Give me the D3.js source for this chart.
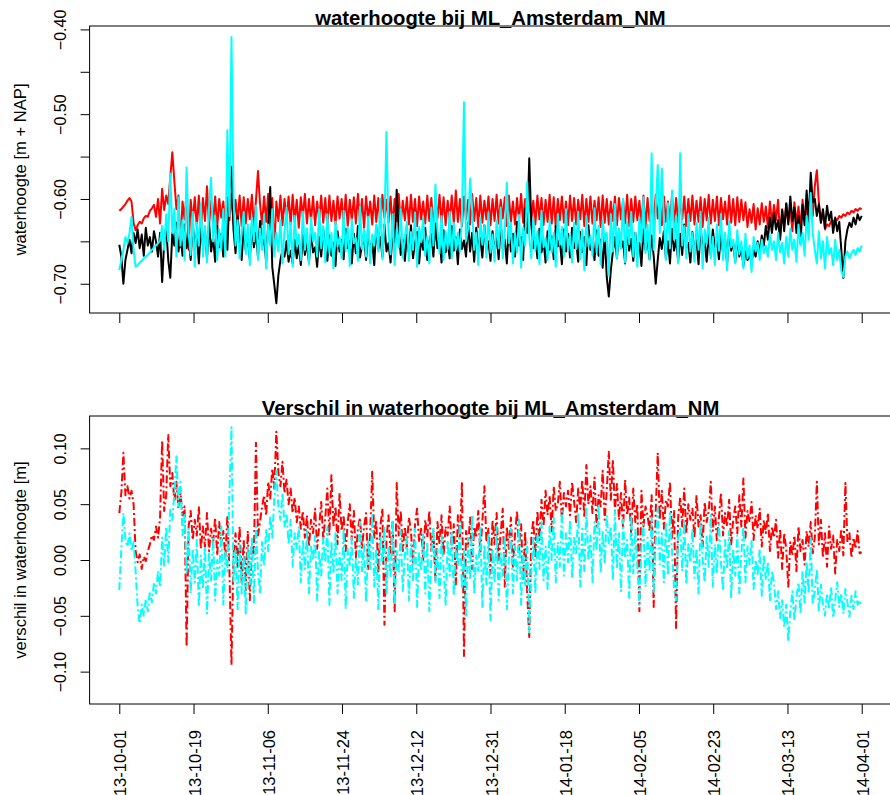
<!DOCTYPE html>
<html>
<head>
<meta charset="utf-8">
<script src="https://cdn.jsdelivr.net/npm/d3@7"></script>
<style>
  body { margin: 0; background: #fff; }
  text { font-family: "Liberation Sans", Arial, sans-serif; }
</style>
</head>
<body>
<div id="d3-container"></div>
<script>
// one value every 12 hours from 2013-10-01 00:00 UTC, in mm
const startTime = Date.UTC(2013, 9, 1);
const endTime = Date.UTC(2014, 3, 1);
const stepMs = 12 * 3600 * 1000;

// waterhoogte, black
const levelObs = [
  -654,-668,-700,-672,-660,-648,-664,-640,-652,
  -636,-658,-642,-667,-634,-655,-645,-662,-638,
  -650,-668,-640,-698,-652,-633,-672,-693,-640,
  -655,-628,-662,-642,
  -667,-630,-658,-645,-672,-627,-660,-640,-676,-634,
  -655,-638,-670,-628,-662,-645,-674,-632,-657,-641,-668,-625,-660,-590,-562,-636,-664,-620,-648,-672,
  -632,-660,-644,-671,-629,-657,-640,-668,-626,-655,-648,-674,-630,-586,-680,-701,-723,-690,-672,-660,
  -668,-650,-674,-661,-676,-648,-670,-655,-678,-642,-666,-652,-675,-640,-663,-657,-680,-645,-668,-636,
  -660,-673,-643,-667,-652,-679,-638,-662,-648,-671,-635,-658,-650,-676,-641,-664,-632,-669,-655,-646,
  -672,-637,-661,-650,-678,-633,-659,-645,-668,-630,-662,-652,-675,-640,-657,-589,-636,-666,-648,-673,
  -642,-664,-631,-670,-652,-639,-676,-646,-660,-634,-672,-650,-641,-668,-629,-658,-647,-675,-637,-663,
  -651,-670,-632,-661,-645,-677,-636,-659,-649,-668,-628,-662,-640,-674,-634,-657,-646,-669,-631,-660,
  -650,-673,-638,-664,-643,-671,-629,-658,-648,-676,-633,-662,-641,-668,-627,-655,-645,-672,-611,-640,
  -552,-630,-658,-646,-670,-635,-663,-649,-675,-638,-660,-644,-671,-632,-656,-648,-677,-636,-662,-641,
  -669,-634,-658,-650,-674,-639,-663,-645,-678,-631,-660,-652,-672,-637,-667,-648,-681,-642,-692,-715,
  -684,-662,-645,-670,-638,-658,-650,-676,-634,-661,-647,-673,-640,-665,-652,-679,-636,-660,-648,-671,
  -643,-667,-700,-672,-646,-659,-638,-670,-650,-676,-635,-661,-648,-673,-641,-666,-630,-658,-652,-675,
  -639,-662,-648,-677,-633,-660,-651,-674,-642,-667,-636,-658,-649,-671,-640,-664,-646,-676,-638,-661,
  -652,-674,-645,-668,-657,-679,-662,-672,-666,-675,-660,-668,-650,-662,-643,-655,-632,-648,-622,-640,
  -617,-636,-625,-648,-613,-638,-605,-630,-597,-626,-610,-640,-620,-652,-607,-631,-590,-626,-569,-604,
  -600,-620,-606,-628,-612,-634,-608,-625,-615,-640,-622,-638,-627,-660,-693,-650,-636,-628,-633,-622,-630,-618,-625,-620
];

// waterhoogte, red
const levelRed = [
  -614,-612,-609,-606,-602,-599,-603,-628,-637,
  -631,-627,-629,-623,-620,-621,-614,-611,-607,
  -621,-600,-629,-588,-613,-596,-606,-574,-545,
  -579,-612,-596,-657,
  -603,-624,-592,-660,-601,-627,-598,-633,-596,-640,
  -599,-626,-585,-631,-602,-628,-597,-634,-600,-622,-603,-636,-598,-625,-594,-630,-601,-627,-596,-632,
  -598,-629,-600,-624,-595,-633,-602,-567,-606,-630,-597,-627,-594,-638,-599,-660,-603,-626,-596,-631,
  -600,-625,-597,-630,-595,-627,-601,-634,-598,-622,-594,-629,-600,-626,-597,-631,-603,-624,-596,-628,
  -599,-633,-596,-626,-602,-630,-597,-623,-600,-628,-595,-632,-601,-625,-598,-629,-594,-627,-600,-634,
  -597,-624,-603,-630,-596,-627,-599,-631,-595,-622,-601,-628,-597,-633,-600,-626,-594,-629,-602,-625,
  -598,-630,-595,-627,-600,-632,-597,-624,-603,-629,-596,-626,-599,-634,-601,-623,-595,-628,-598,-631,
  -602,-625,-596,-629,-590,-627,-600,-632,-597,-624,-601,-630,-594,-626,-599,-633,-596,-628,-602,-624,
  -597,-631,-600,-626,-595,-629,-601,-623,-598,-632,-596,-627,-603,-630,-599,-625,-594,-628,-600,-633,
  -597,-626,-602,-630,-596,-624,-599,-631,-601,-627,-595,-629,-598,-634,-600,-625,-597,-628,-603,-631,
  -596,-626,-599,-630,-601,-624,-595,-632,-600,-627,-597,-629,-602,-625,-598,-633,-596,-628,-600,-630,
  -603,-626,-597,-631,-599,-624,-601,-629,-595,-632,-600,-627,-597,-625,-602,-630,-596,-634,-599,-626,
  -601,-629,-595,-623,-600,-631,-597,-627,-603,-625,-596,-630,-599,-628,-601,-624,-597,-632,-600,-626,
  -596,-630,-602,-627,-598,-633,-600,-625,-595,-629,-601,-626,-597,-631,-599,-624,-603,-630,-596,-628,
  -600,-631,-598,-627,-601,-625,-604,-633,-612,-628,-606,-636,-611,-630,-605,-627,-609,-634,-603,-629,
  -607,-625,-601,-645,-612,-631,-606,-627,-610,-638,-604,-629,-609,-634,-601,-626,-605,-631,-598,-620,
  -585,-566,-604,-628,-615,-636,-630,-632,-626,-628,-623,-625,-620,-622,-618,-620,-616,-618,-614,-616,-612,-614,-611,-612
];

// waterhoogte, cyan
const levelCyan = [
  -684,-672,-660,-645,-652,-640,-621,-660,-680,
  -678,-675,-673,-670,-668,-666,-663,-660,-657,
  -655,-652,-649,-632,-660,-618,-650,-570,-640,
  -612,-668,-598,-655,
  -625,-672,-563,-640,-666,-615,-680,-628,-655,-605,
  -668,-632,-675,-610,-575,-650,-620,-672,-636,-660,-612,-668,-519,-620,-409,-598,-655,-625,-670,-640,
  -615,-665,-630,-678,-622,-650,-608,-672,-635,-660,-618,-682,-630,-655,-612,-668,-640,-662,-625,-676,
  -638,-610,-665,-628,-680,-620,-655,-642,-672,-615,-660,-635,-677,-622,-650,-640,-668,-612,-658,-632,
  -675,-618,-664,-640,-682,-627,-656,-645,-670,-614,-661,-633,-679,-624,-652,-646,-673,-609,-659,-636,
  -668,-621,-676,-642,-655,-630,-662,-600,-671,-628,-521,-640,-665,-618,-678,-636,-657,-612,-669,-645,
  -627,-673,-639,-660,-616,-680,-633,-651,-622,-667,-644,-676,-610,-655,-583,-636,-664,-620,-672,-638,
  -659,-615,-670,-628,-660,-640,-662,-625,-486,-650,-635,-576,-612,-660,-640,-678,-622,-654,-631,-669,
  -616,-663,-642,-674,-625,-658,-610,-670,-637,-581,-652,-628,-676,-640,-663,-619,-681,-634,-655,-580,
  -645,-670,-622,-660,-638,-677,-614,-657,-646,-672,-625,-663,-640,-680,-618,-654,-633,-668,-612,-661,
  -642,-675,-628,-659,-615,-671,-636,-684,-620,-656,-644,-667,-611,-663,-632,-677,-625,-650,-640,-690,
  -618,-662,-606,-670,-635,-658,-600,-675,-627,-653,-615,-668,-640,-680,-622,-651,-598,-664,-630,-672,
  -546,-660,-610,-560,-640,-564,-625,-672,-605,-658,-590,-648,-620,-676,-546,-655,-632,-670,-618,-662,
  -640,-674,-628,-660,-615,-682,-636,-653,-622,-670,-645,-678,-630,-661,-618,-672,-640,-684,-626,-657,
  -648,-676,-637,-665,-650,-682,-641,-670,-655,-686,-645,-662,-652,-672,-648,-664,-655,-668,-642,-660,
  -650,-672,-640,-663,-652,-676,-645,-668,-635,-660,-648,-674,-630,-655,-640,-667,-620,-648,-593,-640,
  -660,-676,-638,-670,-650,-682,-645,-665,-658,-678,-648,-672,-660,-685,-692,-668,-662,-670,-664,-660,-666,-658,-662,-655
];

// verschil, red
const diffRed = [
  42,60,96,58,66,55,62,50,8,
  -2,5,-8,3,-1,8,14,22,18,
  30,20,38,107,44,58,112,66,78,
  52,70,46,60,
  40,48,-78,30,44,18,36,22,48,10,
  30,12,42,8,28,16,38,4,34,14,26,2,40,-10,-94,5,24,-6,30,-20,
  18,-27,26,-36,15,6,105,22,34,48,58,40,70,55,82,64,115,78,66,88,
  60,72,50,64,42,56,34,48,28,44,20,40,12,36,24,46,10,30,52,18,
  38,64,22,76,30,48,14,60,26,40,8,34,50,18,44,2,28,38,10,30,
  42,-8,24,79,20,36,-12,30,46,-58,18,40,6,34,-46,69,22,44,8,30,
  12,38,26,-4,32,46,16,28,0,36,20,44,8,26,-18,34,14,40,4,30,
  22,48,10,32,-22,40,18,70,-86,26,12,38,-8,30,20,44,6,34,66,16,
  28,-12,36,14,42,0,24,46,-24,30,10,38,-6,22,44,8,32,-18,26,-30,
  -69,20,36,2,44,18,54,30,62,40,58,26,66,44,50,70,36,60,48,62,
  40,70,52,34,64,46,72,38,85,50,66,42,74,30,58,48,80,36,62,97,
  54,90,44,68,36,60,28,72,40,56,22,64,34,50,-46,62,30,48,40,26,
  58,-42,44,96,36,62,28,54,48,70,20,44,-61,38,56,30,64,24,50,36,
  46,20,58,30,40,12,52,34,44,70,26,48,16,38,60,22,42,30,54,14,
  36,48,24,58,30,73,20,44,34,52,18,40,28,46,12,36,24,42,8,30,
  20,36,2,28,-8,24,10,-24,16,4,22,-10,30,8,18,-4,26,12,34,6,
  20,70,14,36,2,24,-6,30,10,22,-12,18,8,28,4,69,16,24,2,20,10,26,6,7
];

// verschil, cyan
const diffCyan = [
  -27,10,42,18,12,24,8,16,-10,
  -42,-57,-40,-50,-35,-46,-28,-38,-20,
  -30,-10,-24,20,-5,30,-2,45,36,
  60,93,48,70,
  22,40,-12,28,-30,10,-20,18,-42,4,
  -26,12,-48,6,-18,20,-36,0,-14,30,-40,8,-10,60,119,-20,10,-44,14,-30,
  4,-48,12,-22,20,-38,30,-10,-30,16,-5,28,8,40,20,55,80,48,36,60,
  30,42,14,36,-6,24,10,30,-20,18,-8,26,-30,12,0,22,-36,8,-14,20,
  -2,30,-40,16,-12,24,-30,6,-18,28,-44,10,-6,20,-34,2,-22,34,-10,14,
  -38,18,-8,40,-24,10,-44,22,-2,30,-30,12,-16,36,-40,8,-12,26,-28,4,
  20,-36,14,-18,28,-42,6,-10,24,-30,16,-46,2,30,-20,10,-34,22,-8,-40,
  18,-14,26,-32,12,-6,34,-26,8,-50,20,-18,40,-30,4,-10,30,-42,14,-22,
  24,-54,10,-20,30,-36,6,-14,22,-44,0,28,-30,12,-18,36,-40,8,-24,16,
  -65,-10,20,-30,26,-8,34,-18,12,-26,30,0,38,-20,16,-6,44,-14,24,-2,
  36,-16,20,6,42,-24,28,-10,46,0,22,-20,34,8,50,-12,26,-4,40,14,
  30,-18,44,-8,24,-28,36,2,18,-34,40,-12,28,-6,-40,12,32,-24,20,-10,
  38,-30,16,46,-4,24,-20,34,-14,42,8,-26,-36,20,30,-10,36,-22,14,-2,
  28,-16,10,-30,34,2,-20,22,-6,40,-24,14,-12,32,-2,-28,18,-8,26,-34,
  10,-14,22,-30,6,30,-20,12,-4,18,-26,0,-14,10,-32,4,-18,-2,-36,-10,
  -20,-44,-28,-52,-36,-60,-40,-73,-46,-28,-54,-34,-20,-48,-10,-38,-2,-30,20,-40,
  -28,-8,-46,-22,-40,-50,-30,-44,-24,-52,-36,-20,-42,-30,-48,-26,-38,-51,-32,-44,-28,-40,-36,-42
];

const yTicksTop = [-0.70, -0.65, -0.60, -0.55, -0.50, -0.45, -0.40];
const yLabelsTop = [-0.70, -0.60, -0.50, -0.40];
const yTicksBottom = [-0.10, -0.05, 0.00, 0.05, 0.10];

const width = 890;
const height = 795;
const left = 89.6, right = 891.4;

const svg = d3.select('#d3-container')
  .append('svg')
  .attr('width', width)
  .attr('height', height)
  .style('display', 'block')
  .style('background', '#fff');

// R style: data range padded 4% on each side
const pad = (right - left) / 27;
const x = d3.scaleUtc()
  .domain([new Date(startTime), new Date(endTime)])
  .range([left + pad, right - pad]);

const xTicks = d3.range(11).map(k => new Date(startTime + k * (endTime - startTime) / 10));
const fmtDate = d3.utcFormat('%Y-%m-%d');
const fmtNum = d3.format('.2f');

function panel(opt) {
  const y = d3.scaleLinear().domain(opt.yDomain).range([opt.bottom, opt.top]);
  const g = svg.append('g');

  const line = d3.line()
    .x((d, i) => x(new Date(startTime + i * stepMs)))
    .y(d => y(d / 1000));

  opt.series.forEach(s => {
    g.append('path')
      .datum(s.values)
      .attr('fill', 'none')
      .attr('stroke', s.color)
      .attr('stroke-width', 2)
      .attr('stroke-linejoin', 'round')
      .attr('stroke-dasharray', s.dash || null)
      .attr('d', line);
  });

  // box
  g.append('rect')
    .attr('x', left).attr('y', opt.top)
    .attr('width', right - left).attr('height', opt.bottom - opt.top)
    .attr('fill', 'none').attr('stroke', '#000').attr('stroke-width', 1);

  const xa = g.append('g')
    .attr('transform', `translate(0,${opt.bottom})`)
    .call(d3.axisBottom(x).tickValues(xTicks).tickSize(10)
      .tickFormat(d => opt.xLabels ? fmtDate(d) : ''));
  xa.select('.domain').remove();
  xa.selectAll('line').attr('stroke', '#000').attr('stroke-width', 1);
  xa.selectAll('text')
    .attr('y', null).attr('dy', null)
    .attr('text-anchor', 'end')
    .attr('transform', 'translate(6.5,26) rotate(-90)')
    .attr('fill', '#000')
    .style('font-size', '16.5px');

  const ya = g.append('g')
    .attr('transform', `translate(${left},0)`)
    .call(d3.axisLeft(y).tickValues(opt.yTicks).tickSize(9)
      .tickFormat(d => opt.yLabels.some(v => Math.abs(v - d) < 1e-9) ? fmtNum(d) : ''));
  ya.select('.domain').remove();
  ya.selectAll('line').attr('stroke', '#000').attr('stroke-width', 1);
  ya.selectAll('text')
    .attr('x', null).attr('dy', null)
    .attr('text-anchor', 'middle')
    .attr('transform', 'translate(-24,0) rotate(-90)')
    .attr('fill', '#000')
    .style('font-size', '16px');

  g.append('text')
    .attr('transform', `translate(25.5,${(opt.top + opt.bottom) / 2}) rotate(-90)`)
    .attr('text-anchor', 'middle')
    .style('font-size', '16.6px')
    .text(opt.ylabel);

  g.append('text')
    .attr('x', (left + right) / 2)
    .attr('y', opt.top - 1)
    .attr('text-anchor', 'middle')
    .style('font-size', '20.3px')
    .style('font-weight', 'bold')
    .text(opt.title);
}

panel({
  top: 26, bottom: 313,
  yDomain: [-0.7345, -0.396],
  yTicks: yTicksTop, yLabels: yLabelsTop,
  xLabels: false,
  title: 'waterhoogte bij ML_Amsterdam_NM',
  ylabel: 'waterhoogte [m + NAP]',
  series: [
    { values: levelRed, color: '#ff0000' },
    { values: levelObs, color: '#000000' },
    { values: levelCyan, color: '#00ffff' }
  ]
});

panel({
  top: 416, bottom: 704,
  yDomain: [-0.129, 0.129],
  yTicks: yTicksBottom, yLabels: yTicksBottom,
  xLabels: true,
  title: 'Verschil in waterhoogte bij ML_Amsterdam_NM',
  ylabel: 'verschil in waterhoogte [m]',
  series: [
    { values: diffRed, color: '#ff0000', dash: '8,3,2,3' },
    { values: diffCyan, color: '#00ffff', dash: '8,3,2,3' }
  ]
});
</script>
</body>
</html>
